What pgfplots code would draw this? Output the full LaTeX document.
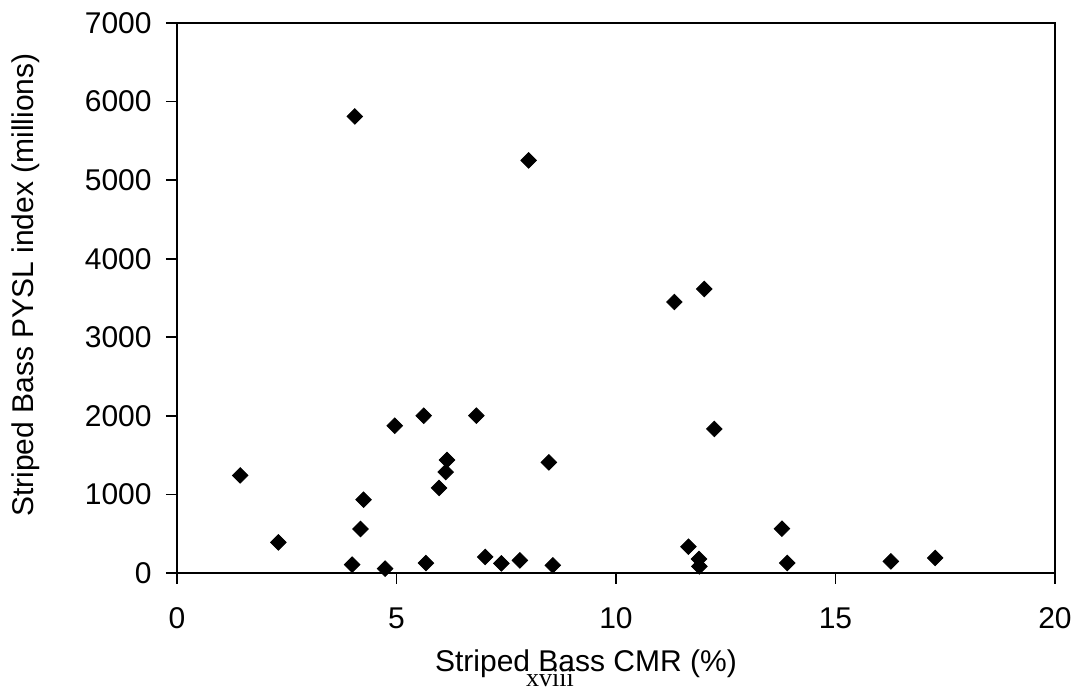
\documentclass[border=0pt]{standalone}
\usepackage{fontspec}
\setmainfont{Liberation Sans}
\newfontfamily\pagefont{Liberation Serif}
\usepackage{pgfplots}
\pgfplotsset{compat=1.18}

% striped bass: CMR (%) vs PYSL index (millions)
\pgfplotstableread{
cmr    pysl
1.44   1242
2.31   389
3.99   106
4.18   560
4.25   933
4.74   55
4.96   1875
5.62   2002
5.67   127
5.97   1082
6.12   1285
6.15   1438
6.82   2002
7.02   204
7.39   122
7.81   160
8.47   1408
8.56   97
4.05   5811
8.01   5251
12.01  3615
11.33  3449
12.24  1833
11.65  335
11.89  178
11.90  84
13.78  564
13.90  127
16.26  148
17.27  191
}\bassdata

\begin{document}
\begin{tikzpicture}
\useasboundingbox (-88.5pt,-58pt) rectangle (450.5pt,286.5pt);
\begin{axis}[
    at={(0,0)}, anchor=south west, scale only axis,
    width=439pt, height=275pt,
    xmin=0, xmax=20, ymin=0, ymax=7000,
    xtick={0,5,...,20}, ytick={0,1000,...,7000},
    tick pos=left, tick align=outside, major tick length=5.5pt,
    axis line style={line width=0.9pt},
    every tick/.style={black, line width=0.9pt},
    scaled ticks=false,
    /pgf/number format/1000 sep={},
    /pgf/number format/assume math mode=true,
    tick label style={font=\fontsize{15}{18}\selectfont, inner sep=0pt},
    xticklabel style={anchor=north, yshift=-11.5pt},
    yticklabel style={anchor=east, xshift=-7pt},
    label style={font=\fontsize{15}{18}\selectfont, inner sep=0pt},
    xlabel={Striped Bass CMR (\%)},
    xlabel style={at={(axis description cs:0.4658,-0.18)}, anchor=base},
    ylabel={Striped Bass PYSL index (millions)},
    ylabel style={at={(axis description cs:-0.164,0.5236)}, anchor=base, rotate=0},
    clip=false,
]
\addplot[only marks, mark=square*, mark size=2.75pt,
    mark options={rotate=45, fill=black, draw=black, line width=0.4pt}]
    table[x=cmr, y=pysl] {\bassdata};
\node[font=\pagefont\fontsize{13}{15}\selectfont, anchor=base, inner sep=0pt]
    at (axis description cs:0.4248,-0.2055) {xviii};
\end{axis}
\end{tikzpicture}
\end{document}
